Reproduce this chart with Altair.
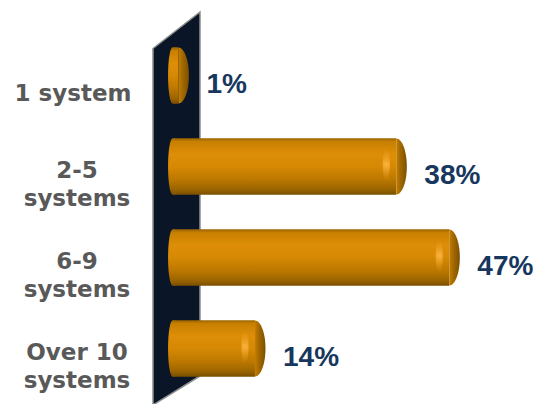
import altair as alt
import pandas as pd

# ---- data ----
categories = ["1 system", "2-5\nsystems", "6-9\nsystems", "Over 10\nsystems"]
shares = [1, 38, 47, 14]
share_labels = ["1%", "38%", "47%", "14%"]

df = pd.DataFrame({"cat": categories, "value": shares, "label": share_labels})

# ---- scales ----
xs = alt.Scale(domain=[-29.3, 61.55], nice=False, zero=False)
ys = alt.Scale(domain=categories, paddingInner=0.38, paddingOuter=0.19)

X = alt.X("value:Q", scale=xs, axis=None)
Y = alt.Y("cat:N", scale=ys, axis=None, sort=categories)

base = alt.Chart(df)

body_grad = alt.Gradient(
    gradient="linear", x1=0, x2=0, y1=0, y2=1,
    stops=[
        alt.GradientStop(offset=0.0, color="#9A6400"),
        alt.GradientStop(offset=0.06, color="#C88000"),
        alt.GradientStop(offset=0.28, color="#DE8E08"),
        alt.GradientStop(offset=0.5, color="#D68904"),
        alt.GradientStop(offset=0.72, color="#BE7900"),
        alt.GradientStop(offset=0.9, color="#9C6500"),
        alt.GradientStop(offset=1.0, color="#7A4F00"),
    ],
)

cap_grad = alt.Gradient(
    gradient="linear", x1=0, x2=1, y1=0, y2=0,
    stops=[
        alt.GradientStop(offset=0.0, color="#C47D00"),
        alt.GradientStop(offset=0.4, color="#A26800"),
        alt.GradientStop(offset=1.0, color="#7C5000"),
    ],
)

glow_grad = alt.Gradient(
    gradient="radial", x1=0.5, y1=0.5, r1=0, x2=0.5, y2=0.5, r2=0.5,
    stops=[
        alt.GradientStop(offset=0.0, color="rgba(255,185,70,0.9)"),
        alt.GradientStop(offset=1.0, color="rgba(230,150,20,0)"),
    ],
)

wall_path = "M -0.119 -0.805 L 0.119 -0.99 L 0.119 0.853 L -0.119 1 Z"
wall = alt.Chart(pd.DataFrame({"w": [0]})).mark_point(
    shape=wall_path, filled=True, fill="#0A1628", stroke="#8F8F8F",
    strokeWidth=1.5, opacity=1, size=156025,
).encode(x=alt.value(176.5), y=alt.value(177.5))

left_path = ("M 0.12 -1 L 0 -1 C -0.09 -1 -0.16 -0.552 -0.16 0 "
             "C -0.16 0.552 -0.09 1 0 1 L 0.12 1 Z")
left_end = base.mark_point(
    shape=left_path, filled=True, fill=body_grad, strokeWidth=0, opacity=1, size=3136
).encode(x=alt.X("zero:Q", scale=xs, axis=None), y=Y).transform_calculate(zero="0")

bars = base.mark_bar(fill=body_grad).encode(
    x=X, x2=alt.datum(0), y=Y
)

right_path = "M 0 -1 C 0.207 -1 0.375 -0.552 0.375 0 C 0.375 0.552 0.207 1 0 1 Z"
right_end = base.mark_point(
    shape=right_path, filled=True, fill=cap_grad, strokeWidth=0, opacity=1, size=3136
).encode(x=X, y=Y)

glow_path = ("M -0.13 0 C -0.13 -0.331 -0.072 -0.6 0 -0.6 C 0.072 -0.6 0.13 -0.331 0.13 0 "
             "C 0.13 0.331 0.072 0.6 0 0.6 C -0.072 0.6 -0.13 0.331 -0.13 0 Z")
glow = base.mark_point(
    shape=glow_path, filled=True, fill=glow_grad, strokeWidth=0, opacity=1,
    size=3136, xOffset=-10, yOffset=-2,
).encode(x=X, y=Y).transform_filter("datum.value >= 5")

value_text = base.mark_text(
    align="left", baseline="middle", dx=28, dy=9,
    font="Liberation Sans", fontWeight="bold", fontSize=28, color="#17375E",
).encode(x=X, y=Y, text="label:N")

cat_single = base.mark_text(
    align="center", baseline="middle", dy=18,
    font="DejaVu Sans", fontWeight="bold", fontSize=23, color="#595959",
).encode(x=alt.value(73), y=Y, text="cat:N").transform_filter(
    "indexof(datum.cat, '\\n') < 0"
)

cat_multi = base.mark_text(
    align="center", baseline="middle", dy=4, lineBreak="\n", lineHeight=28,
    font="DejaVu Sans", fontWeight="bold", fontSize=23, color="#595959",
).encode(x=alt.value(77), y=Y, text="cat:N").transform_filter(
    "indexof(datum.cat, '\\n') >= 0"
)

chart = alt.layer(
    wall, left_end, bars, right_end, glow, value_text, cat_single, cat_multi
).properties(
    width=535, height=364,
    autosize=alt.AutoSizeParams(type="none"),
    padding={"left": 0, "top": 30, "right": 0, "bottom": 10},
    background="white",
).configure_view(strokeWidth=0)

chart.save("out.html", embed_options={"renderer": "svg", "actions": False})
